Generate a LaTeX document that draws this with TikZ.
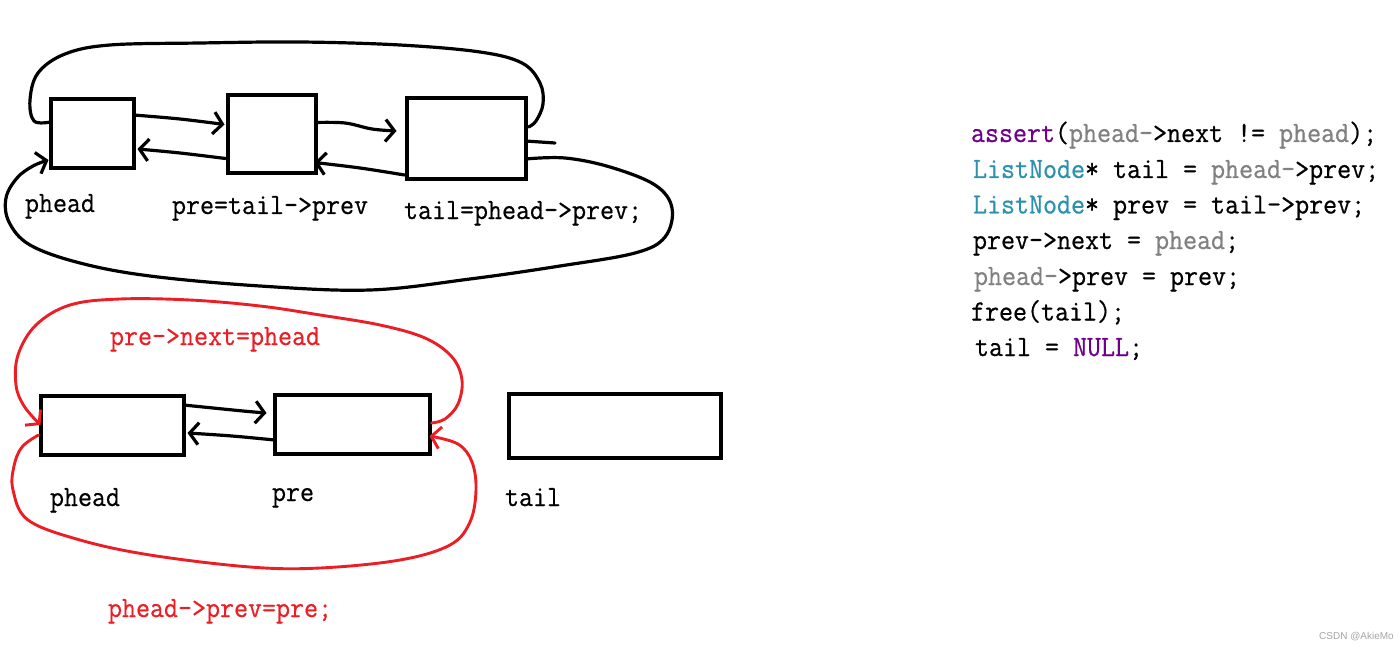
\documentclass[tikz,border=0pt]{standalone}
\usepackage{fontspec}
\usetikzlibrary{arrows.meta}
\newfontfamily\hwfont[FakeStretch=0.925,FakeBold=0.6]{Latin Modern Mono}
\newfontfamily\wmfont{Liberation Sans}
\definecolor{hred}{RGB}{234,30,36}
\definecolor{cpurp}{RGB}{111,0,138}
\definecolor{cteal}{RGB}{43,145,175}
\definecolor{cgray}{RGB}{128,128,128}
\definecolor{wmgray}{RGB}{165,165,165}
\begin{document}
\begin{tikzpicture}[x=1pt,y=-1pt,
  box/.style={draw, line width=4pt, inner sep=0pt, outer sep=0pt},
  ink/.style={line width=3.2pt, line cap=round, line join=round},
  redink/.style={ink, draw=hred, line width=2.9pt},
  tip/.style={-{Straight Barb[length=9pt,width=22pt]}},
  lab/.style={font=\hwfont\fontsize{29.4}{34}\selectfont, anchor=base west, inner sep=0pt, outer sep=0pt},
  redlab/.style={lab, text=hred},
  codeline/.style={lab}]
\useasboundingbox (0,0) rectangle (1400,647);

% ---- top diagram boxes
\node[box, minimum width=83pt, minimum height=69pt] (b1) at (92,134) {};
\node[box, minimum width=88pt, minimum height=78pt] (b2) at (271.5,134.5) {};
\node[box, minimum width=119pt, minimum height=81pt] (b3) at (466,139) {};

% ---- top labels
\node[lab] (l1) at (25,212) {phead};
\node[lab] (l2) at (172,214) {pre=tail->prev};
\node[lab] (l3) at (404,219) {tail=phead->prev;};

% ---- top arrows
\draw[ink,tip] plot[smooth,tension=0.6] coordinates {([shift={(0,-19)}]b1.east) (180,119) ([shift={(-3,-10)}]b2.west)};
\draw[ink,tip] plot[smooth,tension=0.6] coordinates {([shift={(-2,24)}]b2.west) (180,153) ([shift={(4,15)}]b1.east)};
\draw[ink,tip] plot[smooth,tension=0.6] coordinates {([shift={(0,-12)}]b2.east) (345,123) (372,129) ([shift={(-10,-8)}]b3.west)};
\draw[ink,tip] plot[smooth,tension=0.6] coordinates {([shift={(-2,36)}]b3.west) (360,168) ([shift={(-1,28)}]b2.east)};

% top loop (phead <-> tail)
\draw[ink] plot[smooth,tension=0.6] coordinates {([shift={(0,-12)}]b1.west) (34,121) (30,100) (38,73) (65,54) (110,45) (200,43) (300,42) (400,45) (480,52) (522,63) (540,83) (543,104) (536,121) ([shift={(3,-12)}]b3.east)};
\coordinate (tk) at (555,143);
\draw[ink] ([shift={(0,2)}]b3.east) -- (tk);

% bottom loop
\draw[ink,tip] plot[smooth,tension=0.6] coordinates {([shift={(0,20)}]b3.east) (565,158) (610,167) (655,185) (672,208) (665,237) (635,253) (560,266) (470,279) (370,290) (260,286) (150,276) (80,263) (30,245) (9,222) (6,198) (17,178) (33,166) ([shift={(-2,26)}]b1.west)};

% ---- bottom diagram boxes
\node[box, minimum width=143pt, minimum height=59pt] (b4) at (112,425) {};
\node[box, minimum width=155pt, minimum height=59pt] (b5) at (352,424) {};
\node[box, minimum width=212pt, minimum height=64pt] (b6) at (614.5,425.5) {};

% ---- bottom labels
\node[lab] (l4) at (50,506) {phead};
\node[lab] (l5) at (272,501) {pre};
\node[lab] (l6) at (505,506) {tail};
\node[redlab] (r1) at (110,345) {pre->next=phead};
\node[redlab] (r2) at (108,617) {phead->prev=pre;};

% ---- bottom black arrows
\draw[ink,tip] plot[smooth,tension=0.6] coordinates {([shift={(0,-20)}]b4.east) (243,411) ([shift={(-8,-11)}]b5.west)};
\draw[ink,tip] plot[smooth,tension=0.6] coordinates {([shift={(0,16)}]b5.west) (232,436) ([shift={(4,8)}]b4.east)};

% ---- red loops
\draw[redink,tip] plot[smooth,tension=0.6] coordinates {([shift={(2,-1)}]b5.east) (445,419) (458,404) (462,380) (452,357) (425,338) (380,325) (320,315) (260,306) (190,300) (120,299) (70,305) (36,325) (18,355) (16,385) (24,406) (b4.west)};
\draw[redink,tip] plot[smooth,tension=0.6] coordinates {([shift={(-2,10)}]b4.west) (22,447) (14,466) (13,490) (28,520) (80,540) (150,555) (250,567) (320,568) (400,560) (450,545) (470,522) (476,490) (472,462) (458,444) ([shift={(0,12)}]b5.east)};

% ---- code
\node[codeline] (c1) at (971,142) {\textcolor{cpurp}{assert}(\textcolor{cgray}{phead-}>next != \textcolor{cgray}{phead});};
\node[codeline] (c2) at (973,178) {\textcolor{cteal}{ListNode}* tail = \textcolor{cgray}{phead-}>prev;};
\node[codeline] (c3) at (973,213.5) {\textcolor{cteal}{ListNode}* prev = tail->prev;};
\node[codeline] (c4) at (973,249) {prev->next = \textcolor{cgray}{phead};};
\node[codeline] (c5) at (974,285) {\textcolor{cgray}{phead-}>prev = prev;};
\node[codeline] (c6) at (971,320.5) {free(tail);};
\node[codeline] (c7) at (975,356) {tail = \textcolor{cpurp}{NULL};};

% ---- watermark
\node[anchor=base west, inner sep=0pt, text=wmgray, font=\wmfont\fontsize{10}{12}\selectfont] (wm) at (1319,639) {CSDN @AkieMo};
\end{tikzpicture}
\end{document}
